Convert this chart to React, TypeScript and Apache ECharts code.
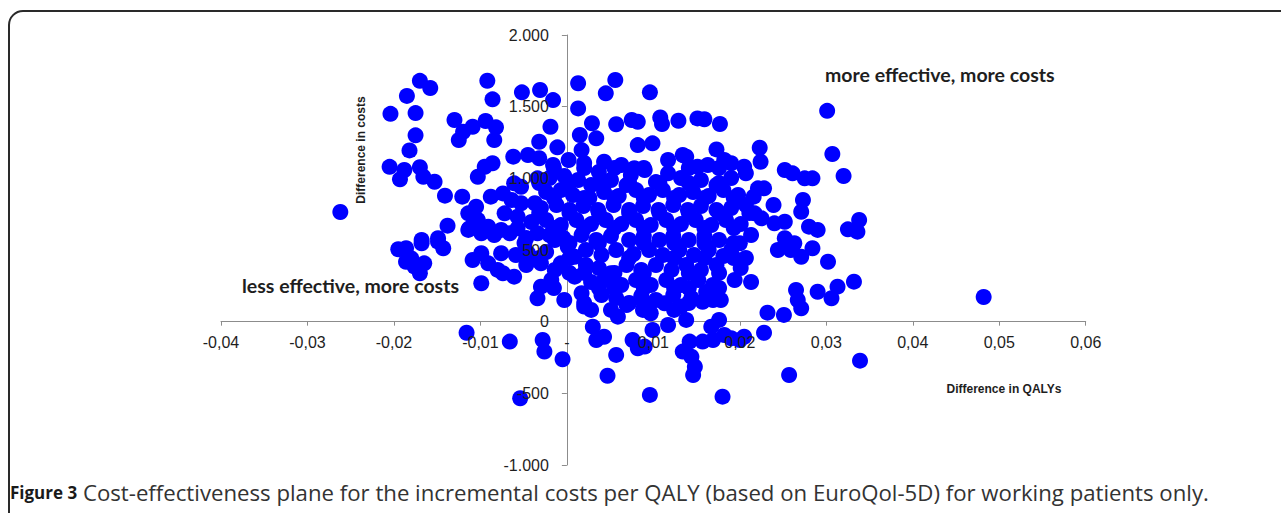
import React, { useEffect, useRef } from "react";
import * as echarts from "echarts";

// Tick labels (as printed in the figure)
const xTickLabels = ["-0,04", "-0,03", "-0,02", "-0,01", "-", "0,01", "0,02", "0,03", "0,04", "0,05", "0,06"];
const yTickLabels = ["-1.000", "-500", "0", "500", "1.000", "1.500", "2.000"];

// Points: [difference in QALYs, difference in costs]
const lessEffectiveMoreCosts: [number, number][] = [
  [-0.017, 1680], [-0.0158, 1630], [-0.0185, 1575], [-0.0204, 1450], [-0.0175, 1455], [-0.0175, 1300],
  [-0.0182, 1195], [-0.0205, 1080], [-0.0188, 1058], [-0.0193, 993], [-0.017, 1077], [-0.0166, 1011],
  [-0.0153, 976], [-0.0141, 879], [-0.0121, 872], [-0.0262, 765], [-0.0138, 670], [-0.013, 1407],
  [-0.012, 1325], [-0.0109, 1360], [-0.0125, 1267], [-0.0094, 1400], [-0.0082, 1356], [-0.0084, 1267],
  [-0.0092, 1681], [-0.0086, 1551], [-0.0052, 1600], [-0.0031, 1616], [-0.0016, 1546], [-0.0019, 1360],
  [-0.0032, 1255], [-0.0011, 1216], [-0.0062, 1151], [-0.0045, 1163], [-0.0032, 1140], [-0.0095, 1081],
  [-0.0086, 1105], [-0.0103, 1011], [-0.0061, 965], [-0.0053, 941], [-0.0034, 1000], [-0.0088, 872],
  [-0.0074, 895], [-0.0064, 849], [-0.0053, 826], [-0.0037, 826], [-0.0105, 802], [-0.0114, 756],
  [-0.0103, 709], [-0.0072, 756], [-0.0057, 732], [-0.0114, 640], [-0.0091, 663], [-0.0076, 640],
  [-0.0057, 651], [-0.0149, 582], [-0.0168, 570],
  [-0.0195, 505], [-0.0186, 512], [-0.0168, 547], [-0.0149, 558], [-0.0143, 512], [-0.018, 442],
  [-0.0165, 407], [-0.017, 338], [-0.0176, 384], [-0.0186, 418], [-0.0113, 651], [-0.0099, 617],
  [-0.0084, 605], [-0.0066, 617], [-0.0109, 430], [-0.0099, 477], [-0.0091, 407], [-0.0076, 477],
  [-0.008, 361], [-0.0074, 338], [-0.0061, 314], [-0.0099, 268], [-0.0034, 163], [-0.0003, 151],
  [-0.003, 244], [-0.0018, 291], [-0.0045, 477], [-0.003, 407], [-0.0014, 361], [-0.0007, 407],
  [-0.0034, 617], [-0.0014, 570], [-0.0047, 395], [-0.0059, 465],
  [-0.0016, 1093], [-0.002, 1002], [-0.0003, 1016], [-0.0024, 905], [-0.0007, 918], [-0.003, 793],
  [-0.0012, 814], [-0.0041, 695], [-0.0024, 709], [-0.0007, 674], [-0.0047, 584], [-0.002, 605],
  [-0.0004, 584], [-0.0024, 486],
  [-0.0015, 1072], [-0.0032, 967], [-0.0015, 863], [-0.0032, 758], [-0.0015, 653], [-0.0049, 549],
  [-0.0032, 444], [-0.0015, 235],
];

const lessEffectiveLessCosts: [number, number][] = [
  [-0.0116, -77], [-0.0066, -139], [-0.0028, -128], [-0.0026, -209], [-0.0005, -262], [-0.0054, -534],
];

const moreEffectiveMoreCosts: [number, number][] = [
  [0.0013, 1663], [0.0013, 1488], [0.0056, 1686], [0.0045, 1593], [0.0096, 1600], [0.0301, 1471],
  [0.0029, 1384], [0.0057, 1377], [0.0075, 1407], [0.0082, 1395], [0.0108, 1425], [0.011, 1379],
  [0.0129, 1402], [0.0151, 1418], [0.0159, 1412], [0.0177, 1379], [0.0015, 1302], [0.0034, 1279],
  [0.0017, 1197], [0.0082, 1232], [0.0099, 1244], [0.0043, 1116], [0.0223, 1213], [0.0224, 1116],
  [0.0307, 1170], [0.0173, 1202], [0.0117, 1128], [0.0134, 1163], [0.0138, 1151], [0.0151, 1081],
  [0.0163, 1093], [0.0182, 1128], [0.019, 1105], [0.0205, 1081], [0.0207, 1035], [0.0078, 1070],
  [0.009, 1058], [0.0117, 1035], [0.0252, 1058], [0.0261, 1035], [0.0275, 1000], [0.0284, 1000],
  [0.032, 1016], [0.0221, 930], [0.0228, 930], [0.0216, 872], [0.0239, 814], [0.0273, 849],
  [0.0271, 767], [0.0217, 756], [0.0225, 721], [0.024, 686], [0.0252, 697], [0.028, 663],
  [0.029, 640], [0.0338, 709], [0.0325, 644], [0.0336, 628],
  [0.0001, 523], [0.0009, 453],
  [0.002, 105], [0.0028, 82], [0.0017, 198], [0.0009, 314], [0.0051, 82], [0.0059, 35],
  [0.0043, 291], [0.0051, 338], [0.0069, 116], [0.0088, 82], [0.0097, 59], [0.0113, 128],
  [0.0124, 82], [0.0132, 105], [0.0138, 12], [0.0157, 139], [0.0169, 151], [0.0194, 291],
  [0.0176, 12], [0.0232, 63], [0.0251, 47], [0.0265, 221], [0.0267, 151], [0.0271, 93],
  [0.029, 209], [0.0306, 163], [0.0313, 244], [0.0332, 279], [0.0302, 418], [0.0284, 512],
  [0.0244, 500], [0.0259, 500], [0.0271, 453], [0.019, 500], [0.02, 547], [0.0252, 582],
  [0.0263, 547], [0.0482, 172],
  [0.0002, 1128], [0.002, 1107], [0.0037, 1044], [0.0063, 1093], [0.0074, 1023],
  [0.0013, 988], [0.0028, 953], [0.0051, 988], [0.0069, 953], [0.0103, 974], [0.0132, 1002],
  [0.0155, 988], [0.0173, 953], [0.019, 1002],
  [0.0007, 884], [0.0026, 863], [0.0043, 905], [0.006, 877], [0.008, 918], [0.0095, 884],
  [0.0111, 918], [0.013, 884], [0.0146, 905], [0.0164, 877], [0.0181, 918], [0.0198, 884],
  [0.0003, 779], [0.0019, 807], [0.0036, 779], [0.0054, 814], [0.0072, 779], [0.0088, 807],
  [0.0106, 779], [0.0123, 814], [0.014, 779], [0.0155, 807], [0.0173, 779], [0.019, 793], [0.0207, 814],
  [0.0011, 709], [0.0028, 681], [0.0045, 709], [0.0063, 681], [0.008, 709], [0.0097, 674],
  [0.0115, 709], [0.0132, 681], [0.0149, 709], [0.0167, 674], [0.0184, 709], [0.0201, 681],
  [0.0017, 605], [0.0034, 570], [0.0051, 598], [0.0072, 570], [0.0089, 598], [0.0107, 570],
  [0.0123, 598], [0.0141, 570], [0.0159, 598], [0.0176, 570], [0.0213, 605],
  [0.0022, 500], [0.004, 465], [0.0057, 500], [0.0077, 472], [0.0095, 500], [0.0111, 465],
  [0.013, 500], [0.0147, 465], [0.0164, 500], [0.0181, 458], [0.0207, 444],
  [0.0022, 395], [0.0037, 374], [0.0069, 395], [0.0086, 361], [0.0103, 395], [0.0121, 361],
  [0.0138, 395], [0.0155, 361], [0.0173, 395], [0.0201, 374],
  [0.0028, 277], [0.0063, 256], [0.008, 291], [0.0097, 256], [0.0115, 291], [0.0132, 256],
  [0.0152, 291], [0.0169, 256], [0.0213, 277],
  [0.004, 186], [0.0057, 165], [0.0086, 179], [0.0103, 151], [0.0123, 186], [0.0144, 165],
  [0.0161, 207], [0.0178, 151],
  // denser core of the cloud
  [0.002, 1072], [0.0055, 1072], [0.0089, 1072], [0.0141, 1072], [0.0176, 1072],
  [0.0003, 967], [0.0037, 967], [0.0072, 967], [0.0107, 967], [0.0141, 967], [0.0176, 967],
  [0.002, 863], [0.0055, 863], [0.0089, 863], [0.0124, 863], [0.0159, 863], [0.0193, 863],
  [0.0003, 758], [0.0037, 758], [0.0072, 758], [0.0107, 758], [0.0141, 758], [0.0176, 758], [0.0211, 758],
  [0.002, 653], [0.0055, 653], [0.0089, 653], [0.0124, 653], [0.0159, 653], [0.0193, 653],
  [0.0003, 549], [0.0037, 549], [0.0089, 549], [0.0124, 549], [0.0159, 549], [0.0193, 549],
  [0.0003, 444], [0.0072, 444], [0.0124, 444], [0.0159, 444], [0.0193, 444],
  [0.0003, 340], [0.002, 340], [0.0055, 340], [0.0089, 340], [0.0141, 340], [0.0176, 340],
  [0.0037, 235], [0.0055, 235], [0.0089, 235], [0.0124, 235], [0.0141, 235], [0.0176, 235],
  [0.002, 130], [0.0072, 130], [0.0089, 130], [0.0141, 130],
];

const moreEffectiveLessCosts: [number, number][] = [
  [0.003, -35], [0.0034, -128], [0.0043, -105], [0.0057, -232], [0.0047, -377], [0.0096, -511],
  [0.0076, -128], [0.0082, -186], [0.009, -174], [0.0099, -58], [0.0117, -23], [0.0134, -209],
  [0.0144, -244], [0.0148, -314], [0.0146, -372], [0.0142, -139], [0.0157, -139], [0.0169, -128],
  [0.0167, -35], [0.0182, -93], [0.019, -116], [0.02, -128], [0.0205, -105], [0.018, -523],
  [0.0228, -77], [0.0257, -372], [0.0339, -272],
];

const xMin = -0.04, xMax = 0.06, xStep = 0.01;
const yMin = -1000, yMax = 2000, yStep = 500;

const AXIS_COLOR = "#8c8c8c";
const TEXT_COLOR = "#1e1e1e";

const W = 1281, H = 513;
const GRID = { left: 221, right: 195.3, top: 35, bottom: 48 };

export default function App() {
  const ref = useRef<HTMLDivElement>(null);
  useEffect(() => {
    if (!ref.current) return;
    const chart = echarts.init(ref.current, undefined, { renderer: "svg" });
    const xFmt = (v: number) => xTickLabels[Math.round((v - xMin) / xStep)] ?? "";
    const yFmt = (v: number) => yTickLabels[Math.round((v - yMin) / yStep)] ?? "";
    const labelFont = { fontFamily: "Liberation Sans", fontSize: 16, color: TEXT_COLOR };
    const plotW = W - GRID.left - GRID.right;
    const plotH = H - GRID.top - GRID.bottom;
    // shift the label-only axes from the grid edges onto the zero lines
    const xLabelOffset = -((0 - yMin) / (yMax - yMin)) * plotH;
    const yLabelOffset = -((0 - xMin) / (xMax - xMin)) * plotW;
    const baseX = { type: "value", min: xMin, max: xMax, interval: xStep, position: "bottom", splitLine: { show: false } };
    const baseY = { type: "value", min: yMin, max: yMax, interval: yStep, position: "left", splitLine: { show: false } };
    const allPoints = [
      ...lessEffectiveMoreCosts,
      ...lessEffectiveLessCosts,
      ...moreEffectiveMoreCosts,
      ...moreEffectiveLessCosts,
    ];
    chart.setOption({
      animation: false,
      backgroundColor: "#ffffff",
      grid: [{ ...GRID }, { ...GRID }],
      xAxis: [
        {
          ...baseX,
          gridIndex: 0,
          z: 0,
          axisLine: { show: true, onZero: true, lineStyle: { color: AXIS_COLOR, width: 1 } },
          axisTick: { show: true, length: 4, lineStyle: { color: AXIS_COLOR } },
          axisLabel: { show: false },
        },
        {
          ...baseX,
          gridIndex: 1,
          z: 6,
          offset: xLabelOffset,
          axisLine: { show: false, onZero: false },
          axisTick: { show: false },
          axisLabel: { show: true, margin: 13, formatter: xFmt, ...labelFont },
        },
      ],
      yAxis: [
        {
          ...baseY,
          gridIndex: 0,
          z: 0,
          axisLine: { show: true, onZero: true, lineStyle: { color: AXIS_COLOR, width: 1 } },
          axisTick: { show: true, length: 5, lineStyle: { color: AXIS_COLOR } },
          axisLabel: { show: false },
        },
        {
          ...baseY,
          gridIndex: 1,
          z: 6,
          offset: yLabelOffset,
          axisLine: { show: false, onZero: false },
          axisTick: { show: false },
          axisLabel: { show: true, margin: 18, formatter: yFmt, ...labelFont },
        },
      ],
      series: [
        {
          type: "scatter",
          xAxisIndex: 0,
          yAxisIndex: 0,
          symbol: "circle",
          symbolSize: 16,
          itemStyle: { color: "#0000ff", opacity: 1 },
          emphasis: { disabled: true },
          z: 2,
          data: allPoints,
        },
      ],
      graphic: [
        {
          type: "rect",
          z: 10,
          shape: { x: 9, y: 11, width: 1300, height: 560, r: 14 },
          style: { fill: "none", stroke: "#2a2a2a", lineWidth: 2 },
          silent: true,
        },
        {
          type: "text",
          z: 10,
          x: 825,
          y: 74,
          style: {
            text: "more effective, more costs",
            fontFamily: "Lato",
            fontWeight: "bold",
            fontSize: 19.5,
            fill: TEXT_COLOR,
            textVerticalAlign: "middle",
            textAlign: "left",
          },
        },
        {
          type: "text",
          z: 10,
          x: 242,
          y: 285,
          style: {
            text: "less effective, more costs",
            fontFamily: "Lato",
            fontWeight: "bold",
            fontSize: 19.5,
            fill: TEXT_COLOR,
            textVerticalAlign: "middle",
            textAlign: "left",
          },
        },
        {
          type: "text",
          z: 10,
          x: 361,
          y: 150,
          rotation: Math.PI / 2,
          style: {
            text: "Difference in costs",
            fontFamily: "Liberation Sans",
            fontWeight: "bold",
            fontSize: 12,
            fill: TEXT_COLOR,
            textAlign: "center",
            textVerticalAlign: "middle",
          },
        },
        {
          type: "text",
          z: 10,
          x: 1004,
          y: 389,
          style: {
            text: "Difference in QALYs",
            fontFamily: "Liberation Sans",
            fontWeight: "bold",
            fontSize: 12,
            fill: TEXT_COLOR,
            textAlign: "center",
            textVerticalAlign: "middle",
          },
        },
        {
          type: "text",
          z: 10,
          x: 10,
          y: 492,
          style: {
            text: "{b|Figure 3} Cost-effectiveness plane for the incremental costs per QALY (based on EuroQol-5D) for working patients only.",
            fontFamily: "Open Sans",
            fontSize: 22.2,
            fill: "#333333",
            textAlign: "left",
            textVerticalAlign: "middle",
            rich: {
              b: { fontFamily: "Open Sans", fontSize: 17, fontWeight: "bold", fill: "#1a1a1a" },
            },
          },
        },
      ],
    });
    return () => chart.dispose();
  }, []);
  return (
    <div
      ref={ref}
      style={{ position: "absolute", left: 0, top: 0, width: W, height: H }}
    />
  );
}
